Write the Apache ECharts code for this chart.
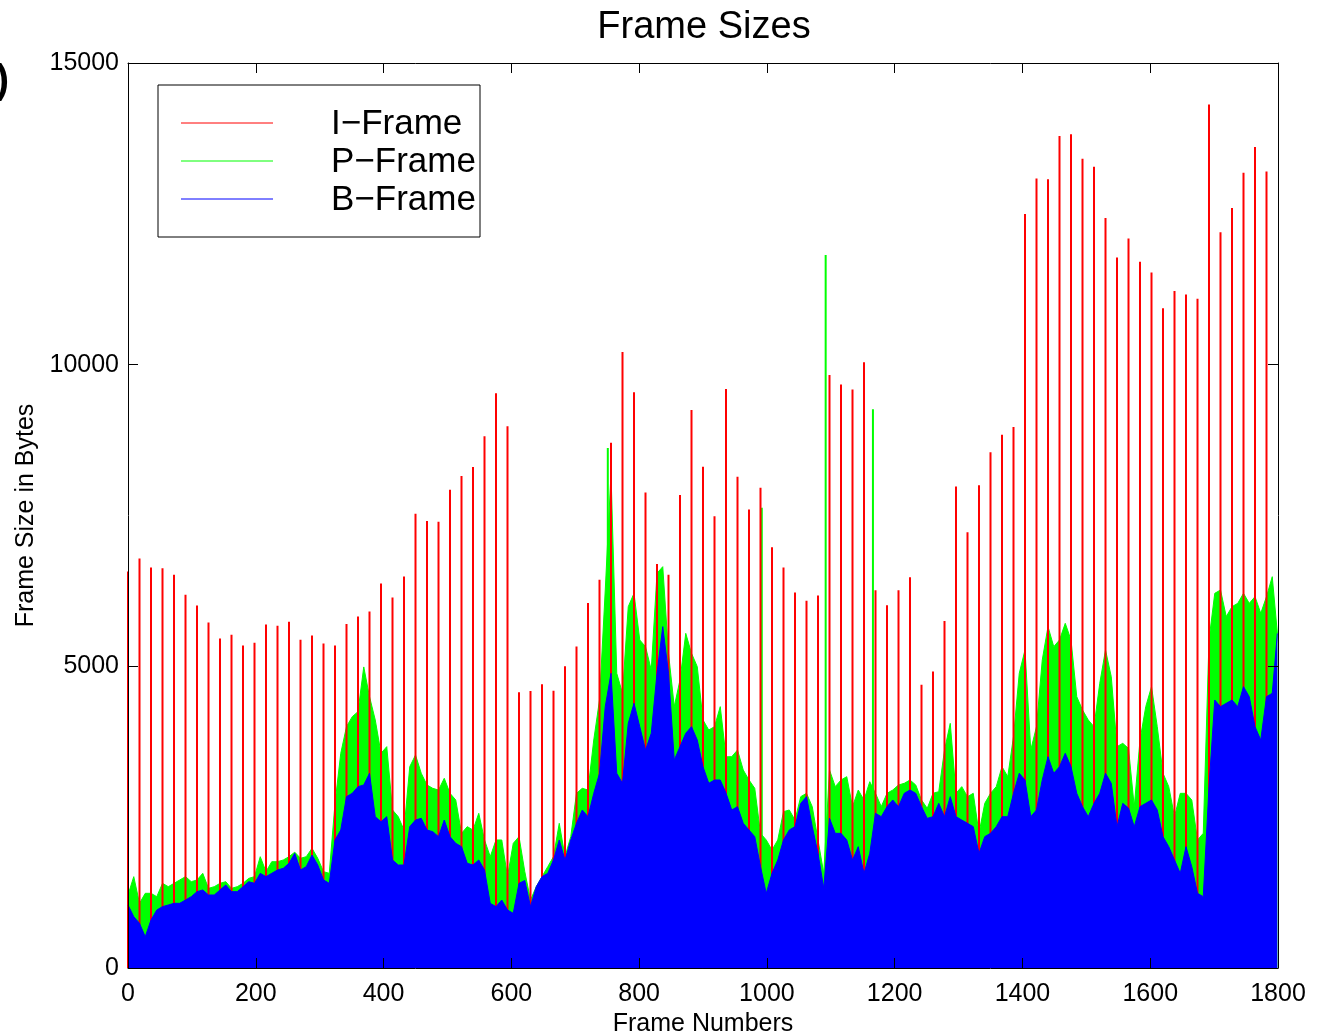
<!DOCTYPE html>
<html>
<head>
<meta charset="utf-8">
<script src="https://cdn.jsdelivr.net/npm/echarts@6/dist/echarts.min.js"></script>
<style>
html,body{margin:0;padding:0;background:#fff;}
#chart{width:1322px;height:1033px;}
</style>
</head>
<body>
<div id="chart"></div>
<script>
// ---------- DATA ----------
const seriesNames = ['I\u2212Frame', 'P\u2212Frame', 'B\u2212Frame'];
const xTickValues = [0, 200, 400, 600, 800, 1000, 1200, 1400, 1600, 1800];
const yTickValues = [0, 5000, 10000, 15000];

// I-frame sizes, one per GOP (GOP length 18 frames, first I-frame at frame 0)
const gopLength = 18;
const iFrameSizes = [
  6571, 6786, 6637, 6626, 6516, 6185, 6009, 5727, 5463, 5524,
  5347, 5391, 5694, 5672, 5738, 5441, 5513, 5380, 5347, 5700,
  5827, 5909, 6372, 6141, 6488, 7530, 7409, 7398, 7927, 8153,
  8302, 8815, 9526, 8981, 4570, 4591, 4702, 4597, 5000, 5330,
  6050, 6435, 8705, 10209, 9542, 7883, 6698, 6516, 7839, 9250,
  8310, 7488, 9595, 8144, 7601, 7961, 6974, 6640, 6222, 6085,
  6176, 9830, 9673, 9588, 10039, 6261, 6013, 6261, 6477, 4693,
  4915, 5752, 7980, 7222, 8000, 8549, 8837, 8967, 12497, 13085,
  13072, 13791, 13817, 13412, 13281, 12431, 11778, 12092, 11706, 11529,
  10935, 11222, 11163, 11092, 14314, 12196, 12595, 13183, 13608, 13203
];

// P-frame envelope: [frame, size]
const pFrameSizes = [
  [0,1210],[9,1514],[18,1072],[27,1238],[36,1238],[45,1182],[54,1403],[63,1348],[72,1403],[81,1459],
  [90,1514],[99,1431],[108,1459],[117,1569],[126,1320],[135,1348],[144,1403],[153,1431],[162,1320],[171,1348],
  [180,1403],[189,1486],[198,1514],[207,1845],[216,1597],[225,1762],[234,1762],[243,1790],[252,1845],[261,1920],
  [270,1818],[279,1845],[288,1984],[297,1818],[306,1597],[315,1569],[324,2729],[333,3558],[342,4000],[351,4166],
  [360,4249],[369,4990],[378,4497],[387,4111],[396,3558],[405,3669],[414,2619],[423,2508],[432,2287],[441,3337],
  [450,3530],[459,3227],[468,3033],[477,2978],[486,2950],[495,3144],[504,2895],[513,2785],[522,2232],[531,2343],
  [540,2287],[549,2564],[558,2122],[567,1845],[576,2122],[585,2122],[594,1514],[603,2066],[612,2177],[621,1600],
  [630,1127],[639,1348],[648,1514],[657,1680],[666,1845],[675,2398],[684,1845],[693,2177],[702,2895],[711,2978],
  [720,2950],[729,3779],[738,4442],[747,6265],[756,8199],[765,4884],[774,4553],[783,5989],[792,6210],[801,5437],
  [810,5326],[819,4939],[828,6542],[837,6652],[846,5216],[855,4332],[864,4774],[873,5547],[882,5216],[891,4995],
  [900,4111],[909,3945],[918,4000],[927,4332],[936,3500],[945,3503],[954,3613],[963,3282],[972,3116],[981,2978],
  [990,2232],[999,2122],[1008,1956],[1017,2122],[1026,2591],[1035,2619],[1044,2453],[1053,2840],[1062,2895],[1071,2674],
  [1080,2122],[1089,1569],[1098,3282],[1107,3006],[1116,3116],[1125,3171],[1134,2674],[1143,2950],[1152,2785],[1161,3088],
  [1170,2895],[1179,2674],[1188,2895],[1197,2950],[1206,3033],[1215,3061],[1224,3116],[1233,3033],[1242,2785],[1251,2646],
  [1260,2895],[1269,2923],[1278,3613],[1287,4055],[1296,2895],[1305,3006],[1314,2840],[1323,2895],[1332,2232],[1341,2729],
  [1350,2895],[1359,3006],[1368,3337],[1377,3171],[1386,3834],[1395,4884],[1404,5271],[1413,3613],[1422,4000],[1431,5105],
  [1440,5658],[1449,5326],[1458,5437],[1467,5713],[1476,5437],[1485,4497],[1494,4277],[1503,4111],[1512,4000],[1521,4718],
  [1530,5271],[1539,4829],[1548,3669],[1557,3724],[1566,3640],[1575,2674],[1584,3779],[1593,4332],[1602,4663],[1611,4000],
  [1620,3227],[1629,3006],[1638,2508],[1647,2895],[1656,2895],[1665,2785],[1674,2122],[1683,2232],[1692,5437],[1701,6210],
  [1710,6265],[1719,5824],[1728,5989],[1737,6044],[1746,6210],[1755,6044],[1764,6155],[1773,5879],[1782,6155],[1791,6486],
  [1799,5547]
];

// isolated tall P-frames: [frame, size]
const pFramePeaks = [[751, 8620], [992, 7630], [1092, 11817], [1166, 9261]];

// B-frame envelope: [frame, size]
const bFrameSizes = [
  [0,1044],[9,851],[18,740],[27,519],[36,796],[45,961],[54,1017],[63,1044],[72,1072],[81,1072],
  [90,1127],[99,1182],[108,1265],[117,1293],[126,1210],[135,1210],[144,1293],[153,1376],[162,1265],[171,1265],
  [180,1348],[189,1431],[198,1403],[207,1569],[216,1514],[225,1569],[234,1624],[243,1652],[252,1735],[261,1900],
  [270,1624],[279,1680],[288,1873],[297,1707],[306,1459],[315,1403],[324,2121],[333,2287],[342,2840],[351,2895],
  [360,3006],[369,3033],[378,3227],[387,2508],[396,2425],[405,2508],[414,1790],[423,1707],[432,1707],[441,2343],
  [450,2453],[459,2481],[468,2287],[477,2260],[486,2177],[495,2453],[504,2177],[513,2066],[522,2011],[531,1735],
  [540,1707],[549,1790],[558,1624],[567,1072],[576,1017],[585,1127],[594,961],[603,906],[612,1403],[621,1450],
  [630,1017],[639,1348],[648,1514],[657,1569],[666,1790],[675,2122],[684,1790],[693,2122],[702,2398],[711,2619],
  [720,2508],[729,2895],[738,3227],[747,4332],[756,4884],[765,3227],[774,3061],[783,4055],[792,4387],[801,4000],
  [810,3613],[819,3890],[828,4884],[837,5658],[846,4884],[855,3448],[864,3669],[873,3890],[882,4000],[891,3779],
  [900,3337],[909,3061],[918,3116],[927,3116],[936,2900],[945,2619],[954,2674],[963,2398],[972,2287],[981,2177],
  [990,1680],[999,1238],[1008,1569],[1017,1790],[1026,2122],[1035,2287],[1044,2343],[1053,2729],[1062,2840],[1071,2343],
  [1080,1900],[1089,1320],[1098,2481],[1107,2232],[1116,2232],[1125,2122],[1134,1790],[1143,2011],[1152,1569],[1161,1900],
  [1170,2564],[1179,2508],[1188,2674],[1197,2785],[1206,2674],[1215,2895],[1224,2950],[1233,2895],[1242,2674],[1251,2480],
  [1260,2508],[1269,2729],[1278,2508],[1287,2840],[1296,2508],[1305,2453],[1314,2398],[1323,2343],[1332,1900],[1341,2177],
  [1350,2232],[1359,2343],[1368,2508],[1377,2508],[1386,2895],[1395,3227],[1404,3116],[1413,2508],[1422,2619],[1431,3116],
  [1440,3503],[1449,3227],[1458,3337],[1467,3558],[1476,3337],[1485,2895],[1494,2674],[1503,2508],[1512,2729],[1521,2895],
  [1530,3227],[1539,3061],[1548,2343],[1557,2729],[1566,2650],[1575,2343],[1584,2674],[1593,2729],[1602,2785],[1611,2619],
  [1620,2177],[1629,2011],[1638,1790],[1647,1569],[1656,2011],[1665,1680],[1674,1238],[1683,1182],[1692,3006],[1701,4442],
  [1710,4332],[1719,4387],[1728,4442],[1737,4332],[1746,4663],[1755,4497],[1764,4000],[1773,3779],[1782,4497],[1791,4553],
  [1799,5547]
];

// ---------- CHART ----------
const FONT = 'Liberation Sans, Arial, Helvetica, sans-serif';
const COLORS = ['#ff0000', '#00ff00', '#0000ff'];
const iFrameData = iFrameSizes.map((v, k) => [k * gopLength, v]);

const chart = echarts.init(document.getElementById('chart'), null, {renderer: 'canvas'});

function makeAxis(extra) {
  const base = {
    axisLine: {show: true, onZero: false, lineStyle: {color: '#000', width: 1}},
    axisTick: {show: true, inside: true, length: 10, lineStyle: {color: '#000', width: 1}},
    splitLine: {show: false},
    z: 10
  };
  return Object.assign(base, extra);
}
const plainNumber = v => String(v);

const option = {
  animation: false,
  backgroundColor: '#fff',
  title: {
    text: 'Frame Sizes',
    left: 699,
    top: 4,
    textAlign: 'center',
    textStyle: {fontFamily: FONT, fontSize: 38, fontWeight: 'normal', color: '#000'}
  },
  grid: {left: 128, right: 44, top: 63, bottom: 65, containLabel: false, outerBoundsMode: 'none'},
  xAxis: [
    makeAxis({
      type: 'value', position: 'bottom', min: xTickValues[0], max: xTickValues[xTickValues.length - 1],
      interval: xTickValues[1] - xTickValues[0],
      name: 'Frame Numbers', nameLocation: 'middle', nameGap: 43,
      nameTextStyle: {fontFamily: FONT, fontSize: 25, color: '#000'},
      axisLabel: {fontFamily: FONT, fontSize: 25, color: '#000', margin: 14, formatter: plainNumber}
    }),
    makeAxis({
      type: 'value', position: 'top', min: xTickValues[0], max: xTickValues[xTickValues.length - 1],
      interval: xTickValues[1] - xTickValues[0],
      axisLabel: {show: false}
    })
  ],
  yAxis: [
    makeAxis({
      type: 'value', position: 'left', min: yTickValues[0], max: yTickValues[yTickValues.length - 1],
      interval: yTickValues[1] - yTickValues[0],
      name: 'Frame Size in Bytes', nameLocation: 'middle', nameGap: 73,
      nameTextStyle: {fontFamily: FONT, fontSize: 25, color: '#000'},
      axisLabel: {fontFamily: FONT, fontSize: 25, color: '#000', margin: 9, formatter: plainNumber}
    }),
    makeAxis({
      type: 'value', position: 'right', min: yTickValues[0], max: yTickValues[yTickValues.length - 1],
      interval: yTickValues[1] - yTickValues[0],
      axisLabel: {show: false}
    })
  ],
  series: [
    {
      name: seriesNames[1], type: 'line', data: pFrameSizes, symbol: 'none', z: 2,
      lineStyle: {color: COLORS[1], width: 1}, areaStyle: {color: COLORS[1], opacity: 1},
      itemStyle: {color: COLORS[1]}
    },
    {
      name: seriesNames[1], type: 'bar', data: pFramePeaks, barWidth: 2, barGap: '-100%', z: 2,
      itemStyle: {color: COLORS[1]}
    },
    {
      name: seriesNames[0], type: 'bar', data: iFrameData, barWidth: 2, barGap: '-100%', z: 3,
      itemStyle: {color: COLORS[0]}
    },
    {
      name: seriesNames[2], type: 'line', data: bFrameSizes, symbol: 'none', z: 4,
      lineStyle: {color: COLORS[2], width: 1}, areaStyle: {color: COLORS[2], opacity: 1},
      itemStyle: {color: COLORS[2]}
    }
  ],
  graphic: [
    {
      type: 'text', x: 9, y: 82, z: 20,
      style: {text: '(b)', font: 'bold 40px ' + FONT, fill: '#000', textAlign: 'right', textVerticalAlign: 'middle'}
    },
    {
      type: 'group', z: 20,
      children: [
        {type: 'rect', shape: {x: 158, y: 85, width: 322, height: 152},
         style: {fill: '#fff', stroke: '#000', lineWidth: 1}},
        {type: 'line', shape: {x1: 181, y1: 123, x2: 273, y2: 123}, style: {stroke: COLORS[0], lineWidth: 1}},
        {type: 'line', shape: {x1: 181, y1: 161, x2: 273, y2: 161}, style: {stroke: COLORS[1], lineWidth: 1}},
        {type: 'line', shape: {x1: 181, y1: 199, x2: 273, y2: 199}, style: {stroke: COLORS[2], lineWidth: 1}},
        {type: 'text', x: 331, y: 124, style: {text: seriesNames[0], font: '35px ' + FONT, fill: '#000', textVerticalAlign: 'middle'}},
        {type: 'text', x: 331, y: 162, style: {text: seriesNames[1], font: '35px ' + FONT, fill: '#000', textVerticalAlign: 'middle'}},
        {type: 'text', x: 331, y: 200, style: {text: seriesNames[2], font: '35px ' + FONT, fill: '#000', textVerticalAlign: 'middle'}}
      ]
    }
  ]
};
chart.setOption(option);
</script>
</body>
</html>
